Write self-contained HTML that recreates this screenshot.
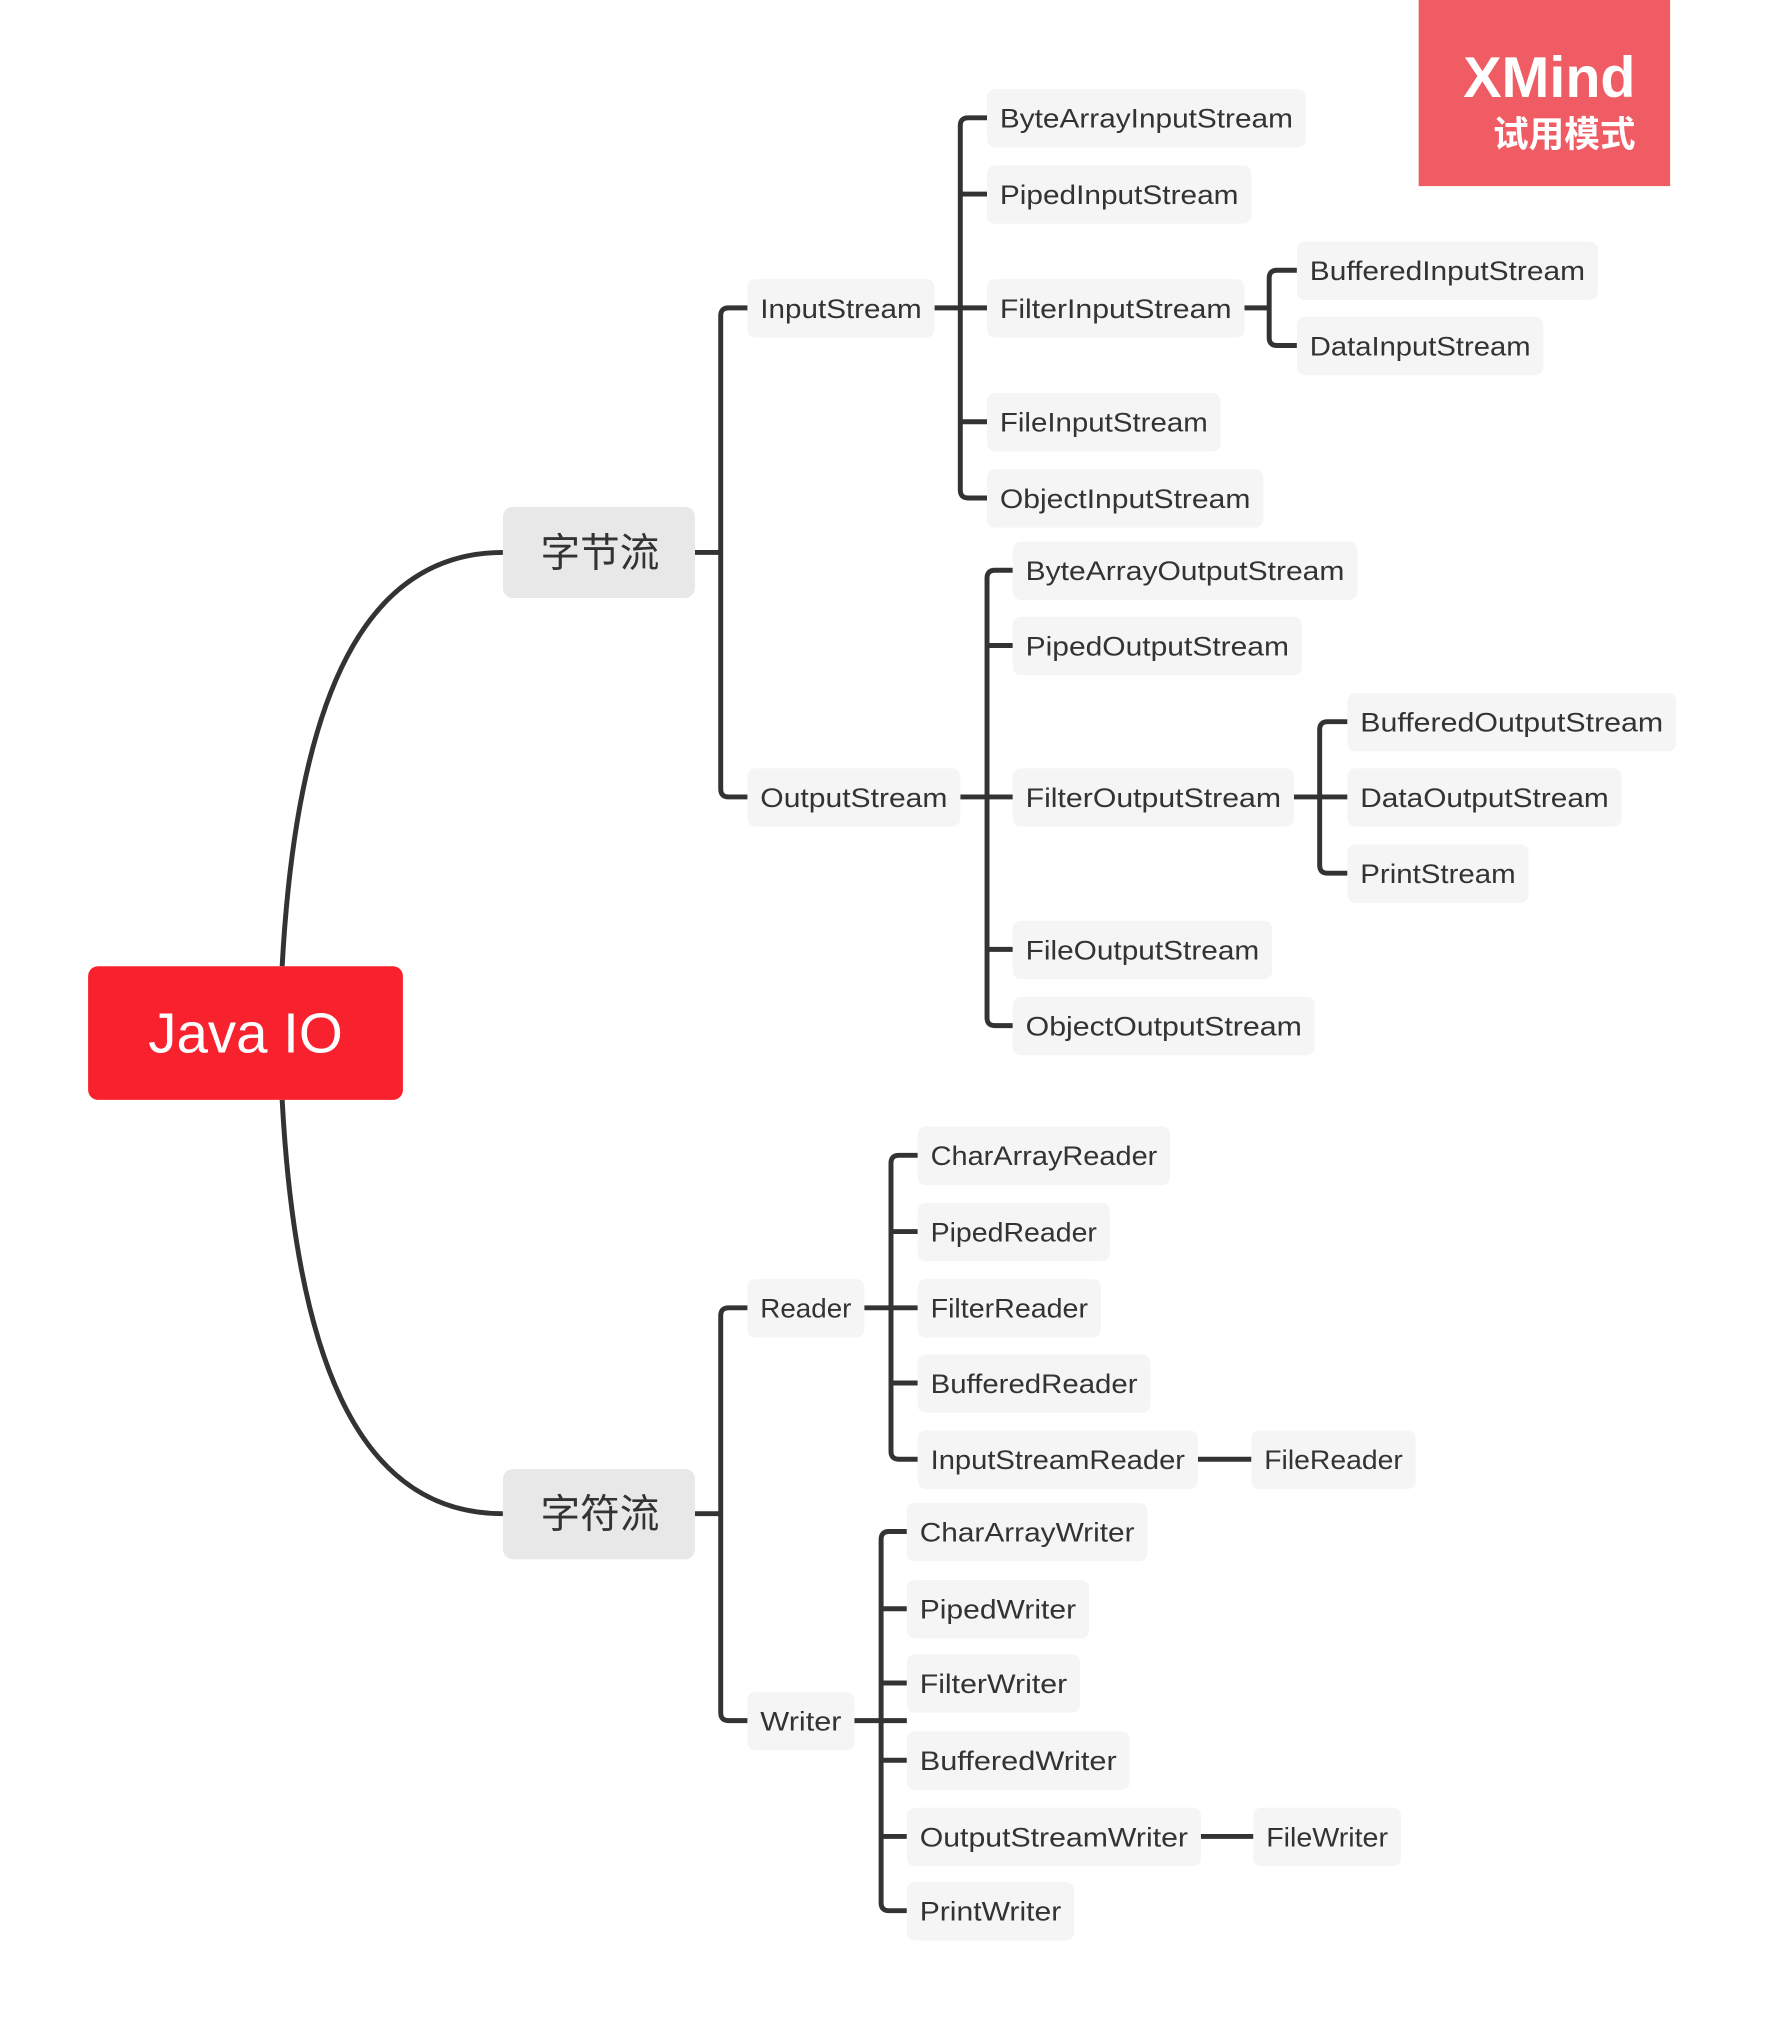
<!DOCTYPE html>
<html><head><meta charset="utf-8"><style>
html,body{margin:0;padding:0;background:#fff;}
svg{display:block;}
.n{fill:#f5f5f5;}
.t{font-family:"Liberation Sans","Noto Sans CJK SC",sans-serif;font-size:27px;fill:#333;}
.c{fill:none;stroke:#333;stroke-width:5;}
</style></head><body>
<svg width="1765" height="2029" viewBox="0 0 1765 2029" xmlns="http://www.w3.org/2000/svg">
<g transform="scale(0.99)">
<!-- watermark -->
<rect x="1433" y="0" width="254" height="188" fill="#f05c64"/>
<text x="1652" y="98" text-anchor="end" font-family="Liberation Sans,sans-serif" font-weight="bold" font-size="58" fill="#fff">XMind</text>
<text x="1652" y="148" text-anchor="end" font-family="Liberation Sans,Noto Sans CJK SC,sans-serif" font-weight="bold" font-size="36" fill="#fff">试用模式</text>

<!-- main curves -->
<path class="c" d="M285,976 C300,700 370,558 508,558"/>
<path class="c" d="M285,1111 C300,1390 370,1529 508,1529"/>

<!-- connectors -->
<g class="c">
<path d="M702,558 H728"/>
<path d="M755,311 H736 Q728,311 728,319 V797 Q728,805 736,805 H755"/>
<path d="M944,311 H997"/>
<path d="M997,119 H978 Q970,119 970,127 V495 Q970,503 978,503 H997"/>
<path d="M970,196 H997 M970,426 H997"/>
<path d="M1257,311 H1282"/>
<path d="M1310,273 H1290 Q1282,273 1282,281 V341 Q1282,349 1290,349 H1310"/>
<path d="M970,805 H1023"/>
<path d="M1023,576 H1005 Q997,576 997,584 V1028 Q997,1036 1005,1036 H1023"/>
<path d="M997,652 H1023 M997,959 H1023"/>
<path d="M1307,805 H1361"/>
<path d="M1361,729 H1341 Q1333,729 1333,737 V874 Q1333,882 1341,882 H1361"/>
<path d="M702,1529 H728"/>
<path d="M755,1321 H736 Q728,1321 728,1329 V1730 Q728,1738 736,1738 H755"/>
<path d="M873,1321 H927"/>
<path d="M927,1167 H908 Q900,1167 900,1175 V1466 Q900,1474 908,1474 H927"/>
<path d="M900,1244 H927 M900,1397 H927"/>
<path d="M1210,1474 H1264"/>
<path d="M863,1738 H916"/>
<path d="M916,1547 H898 Q890,1547 890,1555 V1922 Q890,1930 898,1930 H916"/>
<path d="M890,1625 H916 M890,1700 H916 M890,1778 H916 M890,1855 H916"/>
<path d="M1213,1855 H1266"/>
</g>

<!-- root -->
<rect x="89" y="976" width="318" height="135" rx="10" fill="#f8222f"/>
<text x="248" y="1063" text-anchor="middle" font-family="Liberation Sans,sans-serif" font-size="57" fill="#fff">Java IO</text>

<!-- level 1 -->
<rect x="508" y="512" width="194" height="92" rx="10" fill="#e8e8e8"/>
<text x="606" y="572" text-anchor="middle" font-family="Liberation Sans,Noto Sans CJK SC,sans-serif" font-size="40" fill="#333">字节流</text>
<rect x="508" y="1484" width="194" height="91" rx="10" fill="#e8e8e8"/>
<text x="606" y="1543" text-anchor="middle" font-family="Liberation Sans,Noto Sans CJK SC,sans-serif" font-size="40" fill="#333">字符流</text>

<!-- nodes -->
<g>
<rect class="n" x="755" y="282" width="189" height="59" rx="8"/><text class="t" x="768" y="321" textLength="163" lengthAdjust="spacingAndGlyphs">InputStream</text>
<rect class="n" x="755" y="776" width="215" height="59" rx="8"/><text class="t" x="768" y="815" textLength="189" lengthAdjust="spacingAndGlyphs">OutputStream</text>

<rect class="n" x="997" y="90" width="322" height="59" rx="8"/><text class="t" x="1010" y="129" textLength="296" lengthAdjust="spacingAndGlyphs">ByteArrayInputStream</text>
<rect class="n" x="997" y="167" width="267" height="59" rx="8"/><text class="t" x="1010" y="206" textLength="241" lengthAdjust="spacingAndGlyphs">PipedInputStream</text>
<rect class="n" x="997" y="282" width="260" height="59" rx="8"/><text class="t" x="1010" y="321" textLength="234" lengthAdjust="spacingAndGlyphs">FilterInputStream</text>
<rect class="n" x="997" y="397" width="236" height="59" rx="8"/><text class="t" x="1010" y="436" textLength="210" lengthAdjust="spacingAndGlyphs">FileInputStream</text>
<rect class="n" x="997" y="474" width="279" height="59" rx="8"/><text class="t" x="1010" y="513" textLength="253" lengthAdjust="spacingAndGlyphs">ObjectInputStream</text>

<rect class="n" x="1310" y="244" width="304" height="59" rx="8"/><text class="t" x="1323" y="283" textLength="278" lengthAdjust="spacingAndGlyphs">BufferedInputStream</text>
<rect class="n" x="1310" y="320" width="249" height="59" rx="8"/><text class="t" x="1323" y="359" textLength="223" lengthAdjust="spacingAndGlyphs">DataInputStream</text>

<rect class="n" x="1023" y="547" width="348" height="59" rx="8"/><text class="t" x="1036" y="586" textLength="322" lengthAdjust="spacingAndGlyphs">ByteArrayOutputStream</text>
<rect class="n" x="1023" y="623" width="292" height="59" rx="8"/><text class="t" x="1036" y="662" textLength="266" lengthAdjust="spacingAndGlyphs">PipedOutputStream</text>
<rect class="n" x="1023" y="776" width="284" height="59" rx="8"/><text class="t" x="1036" y="815" textLength="258" lengthAdjust="spacingAndGlyphs">FilterOutputStream</text>
<rect class="n" x="1023" y="930" width="262" height="59" rx="8"/><text class="t" x="1036" y="969" textLength="236" lengthAdjust="spacingAndGlyphs">FileOutputStream</text>
<rect class="n" x="1023" y="1007" width="305" height="59" rx="8"/><text class="t" x="1036" y="1046" textLength="279" lengthAdjust="spacingAndGlyphs">ObjectOutputStream</text>

<rect class="n" x="1361" y="700" width="332" height="59" rx="8"/><text class="t" x="1374" y="739" textLength="306" lengthAdjust="spacingAndGlyphs">BufferedOutputStream</text>
<rect class="n" x="1361" y="776" width="277" height="59" rx="8"/><text class="t" x="1374" y="815" textLength="251" lengthAdjust="spacingAndGlyphs">DataOutputStream</text>
<rect class="n" x="1361" y="853" width="183" height="59" rx="8"/><text class="t" x="1374" y="892" textLength="157" lengthAdjust="spacingAndGlyphs">PrintStream</text>

<rect class="n" x="755" y="1292" width="118" height="59" rx="8"/><text class="t" x="768" y="1331" textLength="92" lengthAdjust="spacingAndGlyphs">Reader</text>
<rect class="n" x="755" y="1709" width="108" height="59" rx="8"/><text class="t" x="768" y="1748" textLength="82" lengthAdjust="spacingAndGlyphs">Writer</text>

<rect class="n" x="927" y="1138" width="255" height="59" rx="8"/><text class="t" x="940" y="1177" textLength="229" lengthAdjust="spacingAndGlyphs">CharArrayReader</text>
<rect class="n" x="927" y="1215" width="194" height="59" rx="8"/><text class="t" x="940" y="1254" textLength="168" lengthAdjust="spacingAndGlyphs">PipedReader</text>
<rect class="n" x="927" y="1292" width="185" height="59" rx="8"/><text class="t" x="940" y="1331" textLength="159" lengthAdjust="spacingAndGlyphs">FilterReader</text>
<rect class="n" x="927" y="1368" width="235" height="59" rx="8"/><text class="t" x="940" y="1407" textLength="209" lengthAdjust="spacingAndGlyphs">BufferedReader</text>
<rect class="n" x="927" y="1445" width="283" height="59" rx="8"/><text class="t" x="940" y="1484" textLength="257" lengthAdjust="spacingAndGlyphs">InputStreamReader</text>
<rect class="n" x="1264" y="1445" width="166" height="59" rx="8"/><text class="t" x="1277" y="1484" textLength="140" lengthAdjust="spacingAndGlyphs">FileReader</text>

<rect class="n" x="916" y="1518" width="243" height="59" rx="8"/><text class="t" x="929" y="1557" textLength="217" lengthAdjust="spacingAndGlyphs">CharArrayWriter</text>
<rect class="n" x="916" y="1596" width="184" height="59" rx="8"/><text class="t" x="929" y="1635" textLength="158" lengthAdjust="spacingAndGlyphs">PipedWriter</text>
<rect class="n" x="916" y="1671" width="175" height="59" rx="8"/><text class="t" x="929" y="1710" textLength="149" lengthAdjust="spacingAndGlyphs">FilterWriter</text>
<rect class="n" x="916" y="1749" width="225" height="59" rx="8"/><text class="t" x="929" y="1788" textLength="199" lengthAdjust="spacingAndGlyphs">BufferedWriter</text>
<rect class="n" x="916" y="1826" width="297" height="59" rx="8"/><text class="t" x="929" y="1865" textLength="271" lengthAdjust="spacingAndGlyphs">OutputStreamWriter</text>
<rect class="n" x="1266" y="1826" width="149" height="59" rx="8"/><text class="t" x="1279" y="1865" textLength="123" lengthAdjust="spacingAndGlyphs">FileWriter</text>
<rect class="n" x="916" y="1901" width="169" height="59" rx="8"/><text class="t" x="929" y="1940" textLength="143" lengthAdjust="spacingAndGlyphs">PrintWriter</text>
</g>
</g>
</svg>
</body></html>
